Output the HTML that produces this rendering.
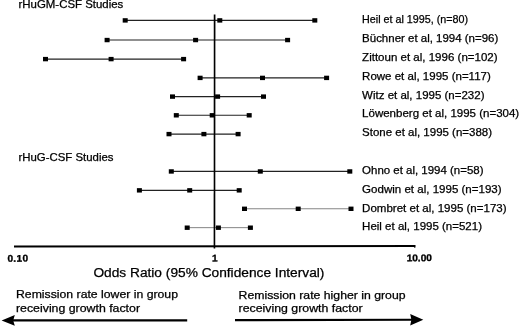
<!DOCTYPE html>
<html lang="en">
<head>
<meta charset="utf-8">
<title>Odds Ratio forest plot</title>
<style>
html,body{margin:0;padding:0;background:#fff;}
body{width:520px;height:326px;overflow:hidden;}
svg{display:block;}
text{font-family:"Liberation Sans",sans-serif;fill:#000;stroke:#000;stroke-width:0.25px;}
.lab{font-size:10.5px;}
.hd{font-size:10.5px;}
.tick{font-size:9.7px;font-weight:bold;stroke-width:0.3px;}
.ax{font-size:12.5px;}
.note{font-size:10.8px;}
</style>
</head>
<body>
<svg width="520" height="326" viewBox="0 0 520 326">
<rect width="520" height="326" fill="#fff"/>
<text class="hd" x="18.5" y="8.3" textLength="104.8" lengthAdjust="spacingAndGlyphs">rHuGM-CSF Studies</text>
<text class="hd" x="18.5" y="160.6" textLength="95.0" lengthAdjust="spacingAndGlyphs">rHuG-CSF Studies</text>
<line x1="125.1" y1="20.35" x2="314.7" y2="20.35" stroke="#222" stroke-width="1.2"/>
<rect x="122.70" y="18.20" width="5.0" height="4.4" fill="#000"/>
<rect x="217.30" y="18.20" width="5.0" height="4.4" fill="#000"/>
<rect x="312.30" y="18.20" width="5.0" height="4.4" fill="#000"/>
<text class="lab" x="362.1" y="22.6" textLength="106.0" lengthAdjust="spacingAndGlyphs">Heil et al 1995, (n=80)</text>
<line x1="107.0" y1="40.0" x2="287.5" y2="40.0" stroke="#222" stroke-width="1.2"/>
<rect x="104.60" y="37.85" width="5.0" height="4.4" fill="#000"/>
<rect x="193.10" y="37.85" width="5.0" height="4.4" fill="#000"/>
<rect x="285.10" y="37.85" width="5.0" height="4.4" fill="#000"/>
<text class="lab" x="362.1" y="42.3" textLength="136.2" lengthAdjust="spacingAndGlyphs">Büchner et al, 1994 (n=96)</text>
<line x1="45.4" y1="59.05" x2="183.5" y2="59.05" stroke="#222" stroke-width="1.2"/>
<rect x="43.00" y="56.90" width="5.0" height="4.4" fill="#000"/>
<rect x="108.60" y="56.90" width="5.0" height="4.4" fill="#000"/>
<rect x="181.10" y="56.90" width="5.0" height="4.4" fill="#000"/>
<text class="lab" x="362.1" y="61.1" textLength="135.5" lengthAdjust="spacingAndGlyphs">Zittoun et al, 1996 (n=102)</text>
<line x1="200.0" y1="77.85" x2="326.5" y2="77.85" stroke="#222" stroke-width="1.2"/>
<rect x="197.60" y="75.70" width="5.0" height="4.4" fill="#000"/>
<rect x="260.00" y="75.70" width="5.0" height="4.4" fill="#000"/>
<rect x="324.10" y="75.70" width="5.0" height="4.4" fill="#000"/>
<text class="lab" x="362.1" y="79.9" textLength="128.7" lengthAdjust="spacingAndGlyphs">Rowe et al, 1995 (n=117)</text>
<line x1="172.4" y1="96.55" x2="263.4" y2="96.55" stroke="#222" stroke-width="1.2"/>
<rect x="170.00" y="94.40" width="5.0" height="4.4" fill="#000"/>
<rect x="215.10" y="94.40" width="5.0" height="4.4" fill="#000"/>
<rect x="261.00" y="94.40" width="5.0" height="4.4" fill="#000"/>
<text class="lab" x="362.1" y="98.8" textLength="122.4" lengthAdjust="spacingAndGlyphs">Witz et al, 1995 (n=232)</text>
<line x1="176.2" y1="115.25" x2="249.1" y2="115.25" stroke="#222" stroke-width="1.2"/>
<rect x="173.80" y="113.10" width="5.0" height="4.4" fill="#000"/>
<rect x="209.70" y="113.10" width="5.0" height="4.4" fill="#000"/>
<rect x="246.70" y="113.10" width="5.0" height="4.4" fill="#000"/>
<text class="lab" x="362.1" y="117.4" textLength="157.1" lengthAdjust="spacingAndGlyphs">Löwenberg et al, 1995 (n=304)</text>
<line x1="168.9" y1="134.05" x2="238.0" y2="134.05" stroke="#222" stroke-width="1.2"/>
<rect x="166.50" y="131.90" width="5.0" height="4.4" fill="#000"/>
<rect x="201.40" y="131.90" width="5.0" height="4.4" fill="#000"/>
<rect x="235.60" y="131.90" width="5.0" height="4.4" fill="#000"/>
<text class="lab" x="362.1" y="135.9" textLength="129.9" lengthAdjust="spacingAndGlyphs">Stone et al, 1995 (n=388)</text>
<line x1="171.2" y1="171.4" x2="349.7" y2="171.4" stroke="#222" stroke-width="1.2"/>
<rect x="168.80" y="169.25" width="5.0" height="4.4" fill="#000"/>
<rect x="257.80" y="169.25" width="5.0" height="4.4" fill="#000"/>
<rect x="347.30" y="169.25" width="5.0" height="4.4" fill="#000"/>
<text class="lab" x="362.1" y="174.1" textLength="121.4" lengthAdjust="spacingAndGlyphs">Ohno et al, 1994 (n=58)</text>
<line x1="139.3" y1="190.3" x2="239.1" y2="190.3" stroke="#222" stroke-width="1.2"/>
<rect x="136.90" y="188.15" width="5.0" height="4.4" fill="#000"/>
<rect x="187.20" y="188.15" width="5.0" height="4.4" fill="#000"/>
<rect x="236.70" y="188.15" width="5.0" height="4.4" fill="#000"/>
<text class="lab" x="362.1" y="192.9" textLength="139.5" lengthAdjust="spacingAndGlyphs">Godwin et al, 1995 (n=193)</text>
<line x1="244.4" y1="208.75" x2="350.9" y2="208.75" stroke="#777" stroke-width="0.9"/>
<rect x="242.00" y="206.60" width="5.0" height="4.4" fill="#000"/>
<rect x="295.70" y="206.60" width="5.0" height="4.4" fill="#000"/>
<rect x="348.50" y="206.60" width="5.0" height="4.4" fill="#000"/>
<text class="lab" x="362.1" y="211.6" textLength="144.5" lengthAdjust="spacingAndGlyphs">Dombret et al, 1995 (n=173)</text>
<line x1="187.1" y1="227.65" x2="250.3" y2="227.65" stroke="#777" stroke-width="0.9"/>
<rect x="184.70" y="225.50" width="5.0" height="4.4" fill="#000"/>
<rect x="215.90" y="225.50" width="5.0" height="4.4" fill="#000"/>
<rect x="247.90" y="225.50" width="5.0" height="4.4" fill="#000"/>
<text class="lab" x="362.1" y="229.8" textLength="119.9" lengthAdjust="spacingAndGlyphs">Heil et al, 1995 (n=521)</text>
<line x1="214.6" y1="14.6" x2="214.45" y2="248.6" stroke="#000" stroke-width="1.65"/>
<line x1="14" y1="246.5" x2="415.3" y2="245.9" stroke="#000" stroke-width="2"/>
<line x1="414.8" y1="245" x2="414.8" y2="247.9" stroke="#000" stroke-width="1"/>
<text class="tick" transform="translate(7.4 261.7) rotate(-0.4) scale(1.05 1)" textLength="19.7" lengthAdjust="spacing">0.10</text>
<text class="tick" transform="translate(211.9 261.5) rotate(-0.4) scale(1.05 1)">1</text>
<text class="tick" transform="translate(406.7 261.25) rotate(-0.4) scale(1.05 1)" textLength="24.0" lengthAdjust="spacing">10.00</text>
<text class="ax" x="93.4" y="277.15" textLength="231" lengthAdjust="spacingAndGlyphs">Odds Ratio (95% Confidence Interval)</text>
<text class="note" x="16" y="298.35" textLength="162" lengthAdjust="spacingAndGlyphs">Remission rate lower in group</text>
<text class="note" x="16" y="311.9" textLength="124" lengthAdjust="spacingAndGlyphs">receiving growth factor</text>
<text class="note" x="238.6" y="298.7" textLength="167" lengthAdjust="spacingAndGlyphs">Remission rate higher in group</text>
<text class="note" x="238.6" y="312.4" textLength="124" lengthAdjust="spacingAndGlyphs">receiving growth factor</text>
<line x1="10" y1="320.3" x2="187.2" y2="320.3" stroke="#000" stroke-width="2.2"/>
<path d="M1.6 320.4 L14.8 315 L13.2 320.4 L14.8 325.8 Z" fill="#000"/>
<line x1="235" y1="320.2" x2="414" y2="319.75" stroke="#000" stroke-width="2.2"/>
<path d="M423.3 319.8 L410.2 314.1 L411.4 319.8 L410.2 325.5 Z" fill="#000"/>
</svg>
</body>
</html>
